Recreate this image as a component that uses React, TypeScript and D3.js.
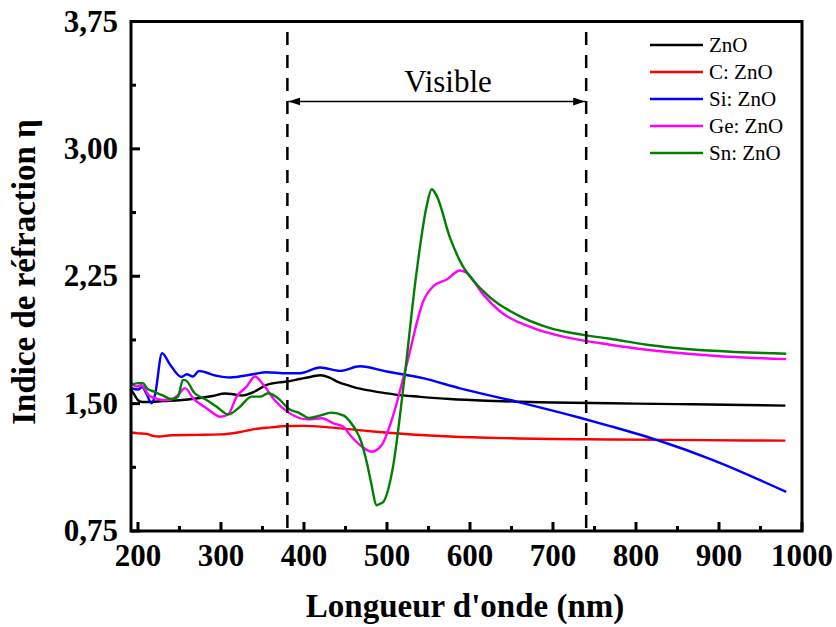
import React from "react";
import * as d3 from "d3";

const W = 836;
const H = 627;

const xTicks = [200, 300, 400, 500, 600, 700, 800, 900, 1000];
const xMinor = [250, 350, 450, 550, 650, 750, 850, 950];
const yTicks = [0.75, 1.5, 2.25, 3.0, 3.75];
const yTickLabels = ["0,75", "1,50", "2,25", "3,00", "3,75"];
const yMinor = [1.125, 1.875, 2.625, 3.375];

const seriesNames = ["ZnO", "C: ZnO", "Si: ZnO", "Ge: ZnO", "Sn: ZnO"];
const seriesColors = ["#000000", "#ff0000", "#0000ff", "#ff00ff", "#008000"];

const znoL = [192, 196, 200, 205, 215, 230, 250, 270, 290, 305, 315, 325, 340, 355, 370, 380, 395, 410, 420, 430, 440, 455, 470, 490, 510, 540, 576, 620, 660, 700, 770, 850, 930, 980];
const znoV = [1.58, 1.55, 1.52, 1.51, 1.51, 1.515, 1.52, 1.53, 1.545, 1.56, 1.555, 1.548, 1.57, 1.61, 1.625, 1.63, 1.645, 1.66, 1.667, 1.655, 1.63, 1.605, 1.585, 1.568, 1.553, 1.54, 1.527, 1.517, 1.511, 1.507, 1.502, 1.497, 1.492, 1.488];

const cL = [192, 200, 210, 218, 225, 240, 270, 300, 320, 340, 360, 380, 400, 430, 460, 490, 530, 576, 650, 770, 880, 980];
const cV = [1.33, 1.325, 1.322, 1.31, 1.306, 1.314, 1.316, 1.319, 1.33, 1.35, 1.36, 1.368, 1.369, 1.36, 1.347, 1.333, 1.318, 1.306, 1.296, 1.289, 1.285, 1.282];

const siL = [192, 200, 205, 210, 216.5, 220.5, 229, 238.6, 252.4, 258.7, 266.3, 273.5, 294.8, 310.8, 338.6, 355, 379, 395, 419.3, 443.4, 467.5, 499.6, 543.4, 588, 656, 732.5, 768.7, 829, 892.8, 981];
const siV = [1.59, 1.583, 1.598, 1.56, 1.502, 1.552, 1.797, 1.73, 1.657, 1.673, 1.66, 1.692, 1.664, 1.654, 1.673, 1.685, 1.679, 1.679, 1.713, 1.693, 1.72, 1.689, 1.65, 1.59, 1.512, 1.417, 1.368, 1.28, 1.168, 0.98];

const geL = [192, 197.6, 204.2, 213.3, 221.7, 231.3, 238.6, 248.6, 256.6, 266.6, 283, 299.4, 308.8, 318.9, 331, 341, 351, 365, 380.7, 404.8, 421.7, 435.3, 447.3, 455.4, 467.5, 481.6, 493.6, 507.6, 523.7, 543.7, 555.8, 571.9, 588, 596, 616, 636, 676.3, 716.5, 768.7, 812.9, 893, 981];
const geV = [1.625, 1.601, 1.608, 1.547, 1.531, 1.521, 1.522, 1.552, 1.591, 1.531, 1.472, 1.423, 1.438, 1.541, 1.601, 1.66, 1.611, 1.518, 1.45, 1.407, 1.414, 1.384, 1.364, 1.315, 1.256, 1.217, 1.256, 1.433, 1.729, 2.103, 2.191, 2.231, 2.284, 2.27, 2.142, 2.044, 1.945, 1.89, 1.847, 1.817, 1.782, 1.762];

const snL = [192, 200, 206, 210.8, 219.3, 228.9, 240.4, 248.2, 254.2, 257.8, 268.3, 280.7, 294.8, 308.8, 320.8, 337, 347, 357, 371, 381, 395, 406, 419.3, 432.5, 448, 455.4, 463.5, 467.5, 475.5, 480.7, 487.6, 491.6, 495.5, 507.6, 519.6, 535.8, 547.8, 553.9, 559.9, 576, 588, 616, 656.3, 696.4, 740.6, 768.7, 812.9, 893, 981];
const snV = [1.611, 1.621, 1.621, 1.59, 1.571, 1.55, 1.527, 1.541, 1.64, 1.636, 1.561, 1.527, 1.482, 1.437, 1.472, 1.541, 1.541, 1.561, 1.522, 1.472, 1.443, 1.415, 1.429, 1.447, 1.429, 1.394, 1.335, 1.295, 1.158, 1.039, 0.902, 0.91, 0.921, 1.138, 1.591, 2.28, 2.664, 2.762, 2.723, 2.476, 2.339, 2.162, 2.024, 1.945, 1.902, 1.882, 1.847, 1.811, 1.794];

const seriesL = [znoL, cL, siL, geL, snL];
const seriesV = [znoV, cV, siV, geV, snV];

const visibleRange = [380, 740];
const visibleLabel = "Visible";
const xTitle = "Longueur d'onde (nm)";
const yTitle = "Indice de réfraction η";

const FONT = "'Liberation Serif', 'Times New Roman', serif";

export default function App() {
  const left = 131, right = 802, top = 21.5, bottom = 531;
  const x = d3.scaleLinear().domain([191.6, 1000]).range([left, right]);
  const y = d3.scaleLinear().domain([0.75, 3.75]).range([bottom, top]);

  const line = d3
    .line<[number, number]>()
    .x((d) => x(d[0]))
    .y((d) => y(d[1]))
    .curve(d3.curveMonotoneX);

  const arrowY = 101.5;

  return (
    <svg width={W} height={H} style={{ position: "absolute", left: 0, top: 0, background: "#fff" }}>
      <defs>
        <marker id="ah" viewBox="0 0 12 8" refX="12" refY="4" markerWidth="12" markerHeight="8" markerUnits="userSpaceOnUse" orient="auto-start-reverse">
          <path d="M0,0 L12,4 L0,8 Z" fill="#000" />
        </marker>
      </defs>
      <rect x={0} y={0} width={W} height={H} fill="#fff" />

      {seriesL.map((L, i) => (
        <path
          key={i}
          d={line(L.map((l, j) => [l, seriesV[i][j]] as [number, number])) || ""}
          fill="none"
          stroke={seriesColors[i]}
          strokeWidth={2.4}
          strokeLinejoin="round"
        />
      ))}

      {visibleRange.map((v) => (
        <line key={v} x1={x(v)} x2={x(v)} y1={32} y2={bottom} stroke="#000" strokeWidth={2.5} strokeDasharray="13,10" />
      ))}
      <line
        x1={x(visibleRange[0]) + 1}
        x2={x(visibleRange[1]) - 1}
        y1={arrowY}
        y2={arrowY}
        stroke="#000"
        strokeWidth={1.3}
        markerStart="url(#ah)"
        markerEnd="url(#ah)"
      />
      <text x={448} y={92} textAnchor="middle" fontFamily={FONT} fontSize={31}>
        {visibleLabel}
      </text>

      <rect x={left} y={top} width={right - left} height={bottom - top} fill="none" stroke="#000" strokeWidth={3} />

      {xTicks.map((t) => (
        <g key={t}>
          <line x1={x(t)} x2={x(t)} y1={bottom} y2={bottom - 9} stroke="#000" strokeWidth={3} />
          <text x={x(t)} y={566} textAnchor="middle" fontFamily={FONT} fontWeight="bold" fontSize={31}>
            {t}
          </text>
        </g>
      ))}
      {xMinor.map((t) => (
        <line key={t} x1={x(t)} x2={x(t)} y1={bottom} y2={bottom - 5} stroke="#000" strokeWidth={3} />
      ))}

      {yTicks.map((t, i) => (
        <g key={t}>
          <line x1={left} x2={left + 9} y1={y(t)} y2={y(t)} stroke="#000" strokeWidth={3} />
          <text x={118} y={y(t) + 10} textAnchor="end" fontFamily={FONT} fontWeight="bold" fontSize={31}>
            {yTickLabels[i]}
          </text>
        </g>
      ))}
      {yMinor.map((t) => (
        <line key={t} x1={left} x2={left + 5} y1={y(t)} y2={y(t)} stroke="#000" strokeWidth={3} />
      ))}

      <text x={465} y={617} textAnchor="middle" fontFamily={FONT} fontWeight="bold" fontSize={33}>
        {xTitle}
      </text>
      <text
        transform={`translate(35, 272) rotate(-90)`}
        textAnchor="middle"
        fontFamily={FONT}
        fontWeight="bold"
        fontSize={33}
      >
        {yTitle}
      </text>

      {seriesNames.map((n, i) => {
        const ly = 45 + i * 27;
        return (
          <g key={n}>
            <line x1={650} x2={703} y1={ly} y2={ly} stroke={seriesColors[i]} strokeWidth={2.5} />
            <text x={709} y={ly + 7} fontFamily={FONT} fontSize={21}>
              {n}
            </text>
          </g>
        );
      })}
    </svg>
  );
}
